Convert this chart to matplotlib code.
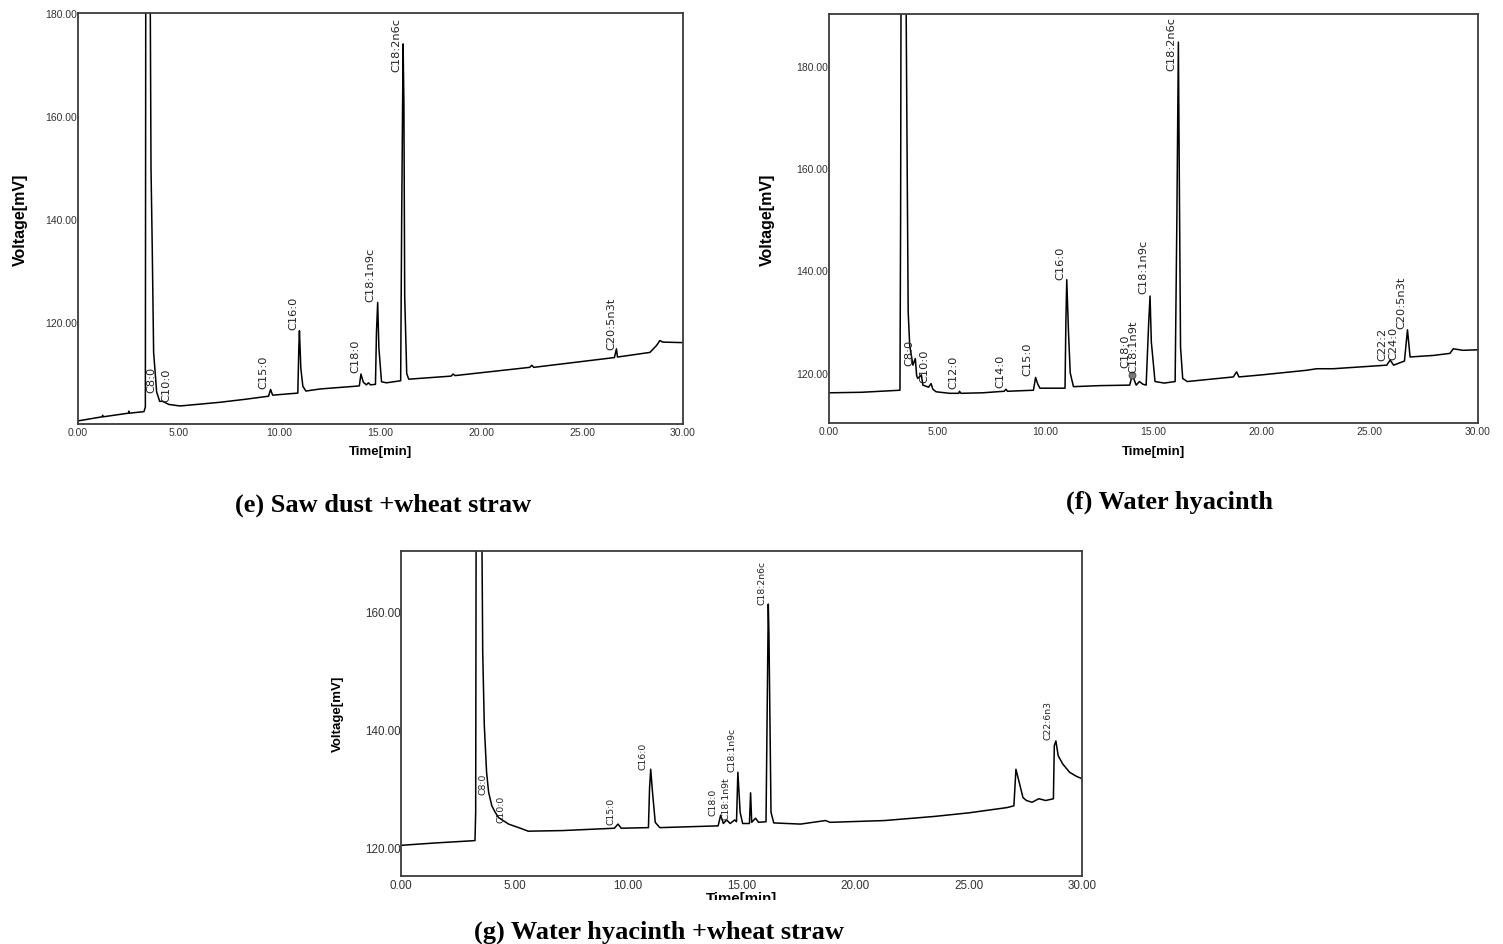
import matplotlib
matplotlib.use("Agg")
import matplotlib.pyplot as plt

# chromatogram traces (time [min], voltage [mV])
t_e = [0.0, 1.2, 1.22, 1.25, 2.5, 2.52, 2.55, 3.27, 3.34, 3.36, 3.58, 3.62, 3.68, 3.75, 3.9,
       4.05, 4.2, 4.5, 5.06, 7.0, 8.3, 9.45, 9.55, 9.65, 10.9, 10.95, 10.98, 11.05, 11.15,
       11.3, 12.0, 13.65, 13.95, 14.03, 14.15, 14.3, 14.4, 14.5, 14.75, 14.8, 14.86, 14.92,
       15.05, 15.3, 16.0, 16.05, 16.12, 16.16, 16.2, 16.3, 16.4, 18.5, 18.6, 18.7, 22.4,
       22.5, 22.6, 26.6, 26.7, 26.75, 28.36, 28.7, 28.85, 29.0, 30.0]
v_e = [100.8, 101.6, 101.9, 101.6, 102.3, 102.7, 102.3, 102.6, 103.5, 185, 185, 150, 134.8,
       114.1, 106.4, 104.6, 104.6, 104.0, 103.7, 104.4, 105.0, 105.6, 106.9, 105.8, 106.2,
       115, 118.3, 111, 107.5, 106.6, 107.0, 107.5, 107.6, 109.9, 108.3, 107.8, 108.2, 107.8,
       107.9, 118, 123.8, 115, 108.4, 108.2, 108.6, 140, 174.0, 162.7, 125, 110, 108.9,
       109.5, 109.9, 109.6, 111.2, 111.6, 111.2, 113.1, 114.8, 113.2, 114.1, 115.5, 116.4,
       116.1, 116.0]

t_f = [0.0, 1.5, 3.28, 3.31, 3.33, 3.56, 3.6, 3.66, 3.73, 3.88, 3.99, 4.05, 4.1, 4.27, 4.34,
       4.6, 4.72, 4.8, 4.95, 5.57, 6.0, 6.03, 6.1, 7.1, 8.1, 8.18, 8.25, 9.45, 9.55, 9.65,
       9.75, 10.91, 10.95, 10.99, 11.07, 11.15, 11.3, 12.5, 13.9, 14.02, 14.2, 14.35, 14.5,
       14.66, 14.78, 14.84, 14.9, 15.0, 15.07, 15.5, 16.0, 16.08, 16.15, 16.19, 16.25, 16.35,
       16.56, 18.69, 18.84, 18.95, 20.0, 22.08, 22.54, 23.3, 25.78, 25.94, 26.1, 26.47, 26.6,
       26.74, 26.86, 27.94, 28.7, 28.86, 29.3, 30.0]
v_f = [116.1, 116.2, 116.6, 150, 195, 195, 169.0, 131.9, 125.4, 121.5, 122.8, 119.5, 118.9,
       119.6, 117.6, 117.2, 117.9, 116.8, 116.3, 116.0, 116.0, 116.4, 116.0, 116.1, 116.4,
       116.8, 116.4, 116.6, 119.1, 117.8, 117.0, 117.0, 130, 138.2, 128.0, 120, 117.3, 117.5,
       117.6, 119.6, 117.6, 118.3, 117.8, 117.6, 130, 135.0, 126, 121.5, 118.3, 118.0, 118.3,
       150, 184.6, 160, 125, 118.9, 118.3, 119.2, 120.2, 119.2, 119.6, 120.5, 120.8, 120.8,
       121.5, 122.5, 121.5, 122.1, 122.3, 128.4, 123.1, 123.4, 123.8, 124.7, 124.4, 124.5]

t_g = [0.0, 1.5, 3.26, 3.29, 3.31, 3.56, 3.6, 3.67, 3.77, 3.86, 4.0, 4.15, 4.3, 4.74, 5.33,
       5.6, 7.1, 9.4, 9.56, 9.7, 10.9, 10.95, 11.0, 11.08, 11.2, 11.4, 13.97, 14.08, 14.2,
       14.35, 14.5, 14.7, 14.78, 14.84, 14.94, 15.05, 15.35, 15.4, 15.45, 15.62, 15.75, 16.08,
       16.18, 16.21, 16.3, 16.42, 17.6, 18.7, 18.9, 21.3, 23.5, 25.0, 26.7, 27.0, 27.09, 27.2,
       27.4, 27.55, 27.8, 28.1, 28.4, 28.74, 28.78, 28.85, 28.95, 29.15, 29.45, 29.75, 30.0]
v_g = [120.3, 120.7, 121.1, 126, 175, 175, 153.0, 140.6, 132.7, 129.3, 127.0, 125.9, 125.0,
       123.9, 123.1, 122.7, 122.8, 123.2, 123.9, 123.2, 123.3, 130, 133.2, 129.3, 124.2, 123.3,
       123.6, 125.4, 124.0, 124.6, 124.0, 124.6, 124.3, 132.7, 125.9, 124.0, 124.0, 129.2,
       124.2, 124.9, 124.2, 124.3, 161.2, 155.8, 125.9, 124.1, 123.9, 124.5, 124.2, 124.5,
       125.2, 125.8, 126.7, 127.0, 133.2, 131.5, 128.4, 127.9, 127.6, 128.2, 127.9, 128.2,
       137.2, 138.0, 135.5, 134.1, 132.7, 132.0, 131.6]

# peak names, label time and the level where each label starts
names_e = ['C8:0', 'C10:0', 'C15:0', 'C16:0', 'C18:0', 'C18:1n9c', 'C18:2n6c', 'C20:5n3t']
lt_e = [3.65, 4.4, 9.19, 10.67, 13.73, 14.51, 15.8, 26.46]
lv_e = [106.4, 104.7, 107.2, 118.6, 110.3, 124.1, 168.8, 114.8]

names_f = ['C8:0', 'C10:0', 'C12:0', 'C14:0', 'C15:0', 'C16:0', 'C18:0', 'C18:1n9t',
           'C18:1n9c', 'C18:2n6c', 'C22:2', 'C24:0', 'C20:5n3t']
lt_f = [3.72, 4.39, 5.75, 7.9, 9.19, 10.68, 13.68, 14.07, 14.53, 15.84, 25.6, 26.09, 26.47]
lv_f = [121.5, 118.3, 117.0, 117.3, 119.6, 138.4, 121.2, 120.2, 135.5, 179.1, 122.5, 122.8, 128.7]

names_g = ['C8:0', 'C10:0', 'C15:0', 'C16:0', 'C18:0', 'C18:1n9t', 'C18:1n9c', 'C18:2n6c', 'C22:6n3']
lt_g = [3.63, 4.39, 9.25, 10.68, 13.73, 14.32, 14.57, 15.89, 28.52]
lv_g = [129.0, 124.2, 123.9, 133.2, 125.4, 124.7, 132.9, 161.2, 138.3]

xticks = [0, 5, 10, 15, 20, 25, 30]
captions = ['(e) Saw dust +wheat straw', '(f) Water hyacinth', '(g) Water hyacinth +wheat straw']

W, H = 1503, 945
fig = plt.figure(figsize=(W / 100, H / 100), dpi=100)
SANS = 'Liberation Sans'


def px_axes(l, t, r, b):
    return fig.add_axes([l / W, 1 - b / H, (r - l) / W, (b - t) / H])


def chromatogram(ax, t, v, ylim, yticks, names, lt, lv, tick_fs, lab_fs):
    ax.plot(t, v, color='black', lw=1.1, clip_on=True)
    ax.set_xlim(0, 30)
    ax.set_ylim(*ylim)
    ax.set_xticks(xticks)
    ax.set_xticklabels([f"{x:.2f}" for x in xticks], fontfamily=SANS, fontsize=tick_fs, color='#333333')
    ax.set_yticks(yticks)
    ax.set_yticklabels([f"{y:.2f}" for y in yticks], fontfamily=SANS, fontsize=tick_fs, color='#333333')
    ax.tick_params(length=0, pad=2)
    ax.tick_params(axis='y', pad=0.5)
    for s in ax.spines.values():
        s.set_color('#3a3a3a')
        s.set_linewidth(1.3)
    for n, x, y in zip(names, lt, lv):
        ax.text(x, y, n, rotation=90, ha='center', va='bottom', fontsize=lab_fs, color='#222222')


ax_e = px_axes(78, 14, 683, 425)
chromatogram(ax_e, t_e, v_e, (100.2, 180.0), [120, 140, 160, 180], names_e, lt_e, lv_e, 7.5, 8.2)

ax_f = px_axes(829, 15, 1478, 424)
chromatogram(ax_f, t_f, v_f, (110.2, 190.1), [120, 140, 160, 180], names_f, lt_f, lv_f, 7.5, 8.2)
ax_f.plot([14.02], [119.6], 'o', ms=5, color='#777777', mec='#444444', mew=0.6)

ax_g = px_axes(401, 552, 1082, 877)
chromatogram(ax_g, t_g, v_g, (115.1, 170.2), [120, 140, 160], names_g, lt_g, lv_g, 8.4, 6.7)

# axis labels
fig.text(380 / W, 1 - 452 / H, 'Time[min]', ha='center', va='center', fontfamily=SANS,
         fontweight='bold', fontsize=9.5)
fig.text(20 / W, 1 - 220 / H, 'Voltage[mV]', ha='center', va='center', rotation=90,
         fontfamily=SANS, fontweight='bold', fontsize=11.5)
fig.text(1153 / W, 1 - 452 / H, 'Time[min]', ha='center', va='center', fontfamily=SANS,
         fontweight='bold', fontsize=9.5)
fig.text(767 / W, 1 - 220 / H, 'Voltage[mV]', ha='center', va='center', rotation=90,
         fontfamily=SANS, fontweight='bold', fontsize=11.5)
tg = fig.text(741 / W, 1 - 899 / H, 'Time[min]', ha='center', va='center', fontfamily=SANS,
              fontweight='bold', fontsize=10.8)
fig.text(338 / W, 1 - 714 / H, 'Voltage[mV]', ha='center', va='center', rotation=90,
         fontfamily=SANS, fontweight='bold', fontsize=9.5)

# the reference cuts the lower half of the last axis title
from matplotlib.patches import Rectangle
clip = Rectangle((0, 0), 1, 1 - 901 / H, transform=fig.transFigure, facecolor='white',
                 edgecolor='none', zorder=5)
fig.add_artist(clip)

# captions
for txt, cx, cy in zip(captions, [383, 1169, 659], [505, 502, 932]):
    fig.text(cx / W, 1 - cy / H, txt, ha='center', va='center', fontfamily='Liberation Serif',
             fontweight='bold', fontsize=19, zorder=6)

fig.savefig('out.png', dpi=100, facecolor='white')
